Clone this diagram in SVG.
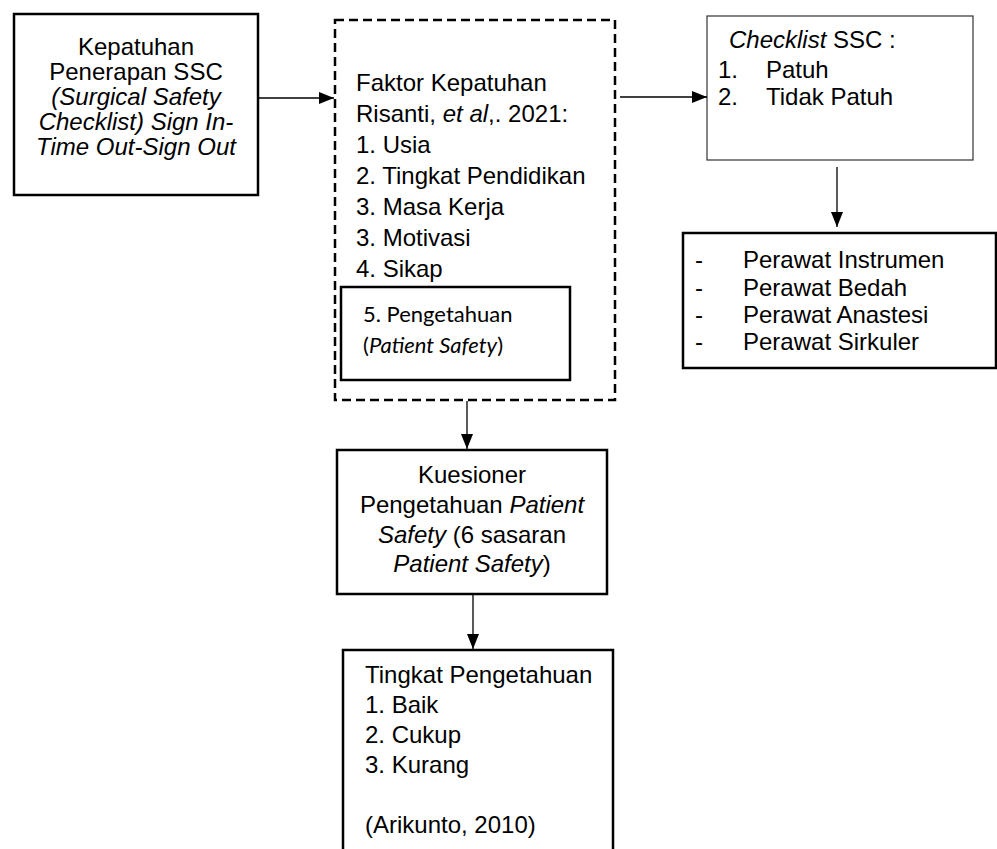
<svg xmlns="http://www.w3.org/2000/svg" width="997" height="849" viewBox="0 0 997 849">
<defs>
<marker id="arr" viewBox="0 0 15 12" refX="15" refY="6" markerWidth="15" markerHeight="12" markerUnits="userSpaceOnUse" orient="auto">
<path d="M0,0 L15,6 L0,12 Z" fill="#000"/>
</marker>
<style>
text{font-family:"Liberation Sans",Arial,sans-serif;font-size:24px;fill:#000}
.c{text-anchor:middle}
.i{font-style:italic}
.cal{font-family:Lato,"Liberation Sans",sans-serif;font-size:22px}
.box{fill:#fff;stroke:#000;stroke-width:2.5}
.thin{fill:#fff;stroke:#333;stroke-width:1.2}
.dash{fill:none;stroke:#000;stroke-width:2.5;stroke-dasharray:9 5}
.con{stroke:#000;stroke-width:1.3;fill:none;marker-end:url(#arr)}
</style>
</defs>
<rect width="997" height="849" fill="#fff"/>

<g id="kepatuhan">
<rect class="box" x="14" y="14" width="244" height="181"/>
<text class="c" x="136" y="55">Kepatuhan</text>
<text class="c" x="136" y="80">Penerapan SSC</text>
<text class="c i" x="136" y="105">(Surgical Safety</text>
<text class="c i" x="136" y="130">Checklist) Sign In-</text>
<text class="c i" x="136" y="155">Time Out-Sign Out</text>
</g>

<g id="faktor">
<rect class="dash" x="335" y="20" width="280" height="380"/>
<text x="356" y="91">Faktor Kepatuhan</text>
<text x="356" y="122">Risanti, <tspan class="i">et al</tspan>,. 2021:</text>
<text x="356" y="153">1. Usia</text>
<text x="356" y="184">2. Tingkat Pendidikan</text>
<text x="356" y="215">3. Masa Kerja</text>
<text x="356" y="246">3. Motivasi</text>
<text x="356" y="277">4. Sikap</text>
</g>

<g id="pengetahuan">
<rect class="box" x="341" y="287" width="229" height="93"/>
<text class="cal" x="363" y="322">5. Pengetahuan</text>
<text class="cal" x="363" y="353">(<tspan class="i">Patient Safety</tspan>)</text>
</g>

<g id="checklist">
<rect class="thin" x="707" y="16" width="266" height="144"/>
<text x="729" y="48"><tspan class="i">Checklist</tspan> SSC :</text>
<text x="718" y="78">1.</text>
<text x="766" y="78">Patuh</text>
<text x="718" y="105">2.</text>
<text x="766" y="105">Tidak Patuh</text>
</g>

<g id="perawat">
<rect class="box" x="683" y="233" width="313" height="135"/>
<text x="695" y="268">-</text><text x="743" y="268">Perawat Instrumen</text>
<text x="695" y="296">-</text><text x="743" y="296">Perawat Bedah</text>
<text x="695" y="323">-</text><text x="743" y="323">Perawat Anastesi</text>
<text x="695" y="350">-</text><text x="743" y="350">Perawat Sirkuler</text>
</g>

<g id="kuesioner">
<rect class="box" x="337" y="450" width="270" height="144"/>
<text class="c" x="472" y="483">Kuesioner</text>
<text class="c" x="472" y="513">Pengetahuan <tspan class="i">Patient</tspan></text>
<text class="c" x="472" y="543"><tspan class="i">Safety</tspan> (6 sasaran</text>
<text class="c" x="472" y="572"><tspan class="i">Patient Safety</tspan>)</text>
</g>

<g id="tingkat">
<rect class="box" x="343" y="650" width="270" height="220"/>
<text x="365" y="683">Tingkat Pengetahuan</text>
<text x="365" y="713">1. Baik</text>
<text x="365" y="743">2. Cukup</text>
<text x="365" y="773">3. Kurang</text>
<text x="365" y="833">(Arikunto, 2010)</text>
</g>

<g id="connectors">
<line class="con" x1="258" y1="98" x2="334" y2="98"/>
<line class="con" x1="620" y1="97" x2="707" y2="97"/>
<line class="con" x1="837" y1="167" x2="837" y2="227"/>
<line class="con" x1="467" y1="401" x2="467" y2="449"/>
<line class="con" x1="473" y1="595" x2="473" y2="649"/>
</g>
</svg>
